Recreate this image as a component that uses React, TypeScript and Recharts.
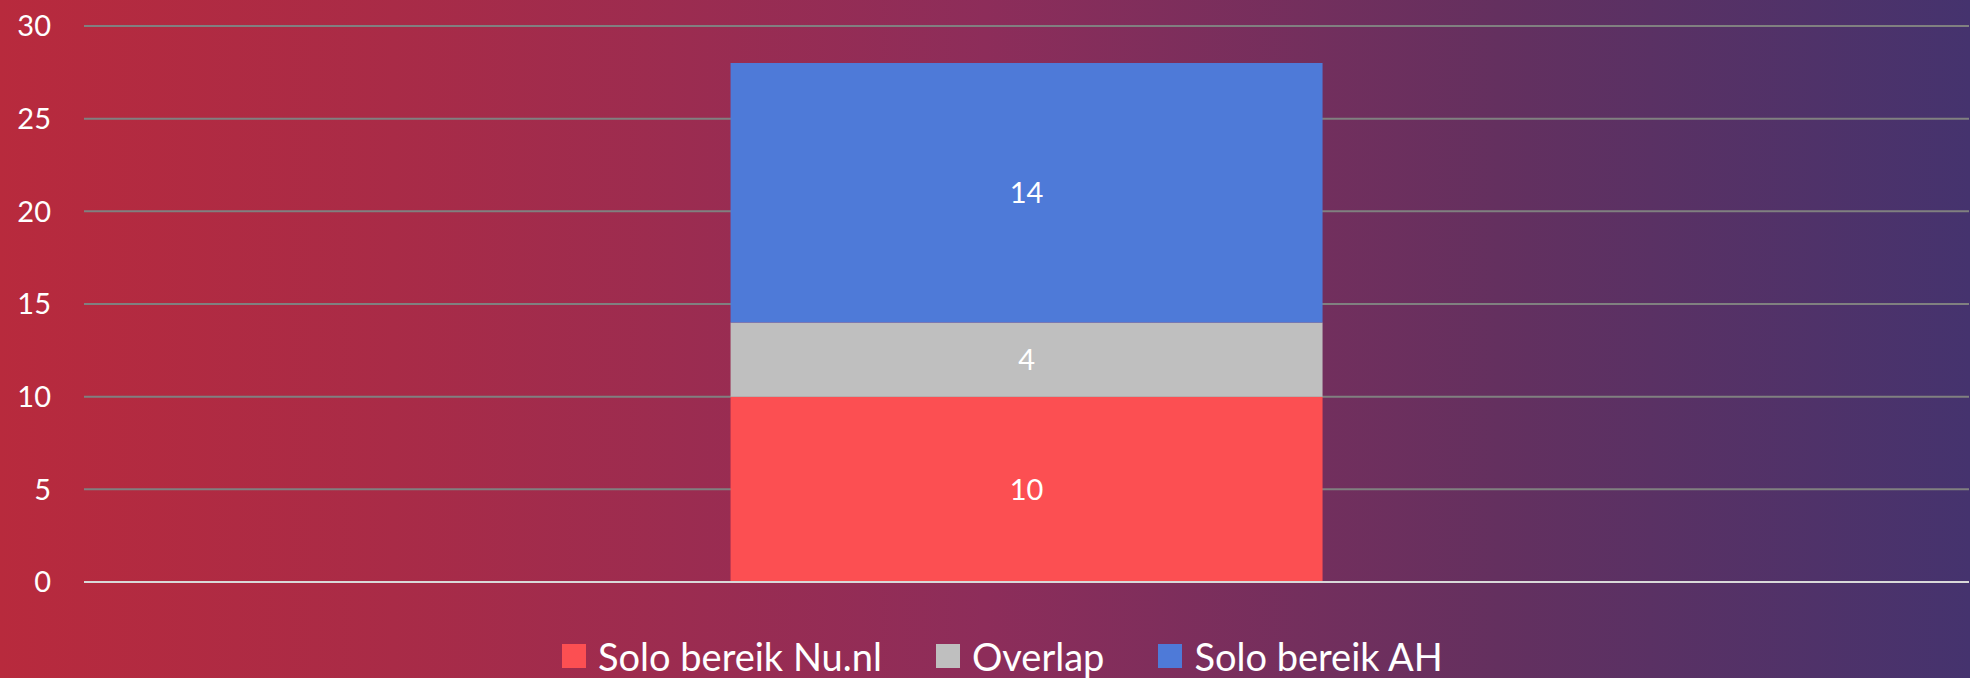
import { Bar, BarChart, CartesianGrid, LabelList, ReferenceLine, XAxis, YAxis } from "recharts"

const categories = [""]
const soloNu = [10]
const overlap = [4]
const soloAh = [14]
const yTicks = [0, 5, 10, 15, 20, 25, 30]

const series = [
  { key: "nu", name: "Solo bereik Nu.nl", color: "#FC4F52" },
  { key: "overlap", name: "Overlap", color: "#BFBFBF" },
  { key: "ah", name: "Solo bereik AH", color: "#4E7AD8" },
]

const data = categories.map((name, i) => ({
  name,
  nu: soloNu[i],
  overlap: overlap[i],
  ah: soloAh[i],
}))

const font = "Lato, 'Open Sans', sans-serif"

// legend drawn as plain html under the plot
function ChartLegend() {
  return (
    <div
      style={{
        position: "absolute",
        left: 562,
        top: 636,
        height: 40,
        display: "flex",
        alignItems: "center",
        gap: 54,
        fontFamily: font,
        fontSize: 38,
        lineHeight: "40px",
        color: "#fff",
        whiteSpace: "nowrap",
      }}
    >
      {series.map((s) => (
        <div key={s.key} style={{ display: "flex", alignItems: "center", gap: 12 }}>
          <span style={{ width: 24, height: 24, background: s.color, display: "inline-block" }} />
          <span>{s.name}</span>
        </div>
      ))}
    </div>
  )
}

export default function App() {
  return (
    <div
      style={{
        position: "absolute",
        left: 0,
        top: 0,
        width: 1970,
        height: 678,
        overflow: "hidden",
        background: "linear-gradient(to right, #B82A3D 0%, #A92B47 20%, #8D2D5A 50%, #64305F 76%, #45336E 100%)",
      }}
    >
      <BarChart width={1970} height={678} data={data} margin={{ top: 26, right: 1, left: 0, bottom: 96 }} barCategoryGap="34.3%">
        <CartesianGrid vertical={false} stroke="#808080" strokeWidth={2} />
        <XAxis dataKey="name" hide />
        <YAxis
          domain={[0, 30]}
          ticks={yTicks}
          width={84}
          axisLine={false}
          tickLine={false}
          tickMargin={27}
          tick={{ fill: "#fff", fontSize: 29, fontFamily: font }}
        />
        <ReferenceLine y={0} stroke="#D9D9D9" strokeWidth={2} />
        {series.map((s) => (
          <Bar key={s.key} dataKey={s.key} name={s.name} stackId="a" fill={s.color} isAnimationActive={false}>
            <LabelList dataKey={s.key} position="center" fill="#fff" fontSize={29} fontFamily={font} />
          </Bar>
        ))}
      </BarChart>
      <ChartLegend />
    </div>
  )
}
